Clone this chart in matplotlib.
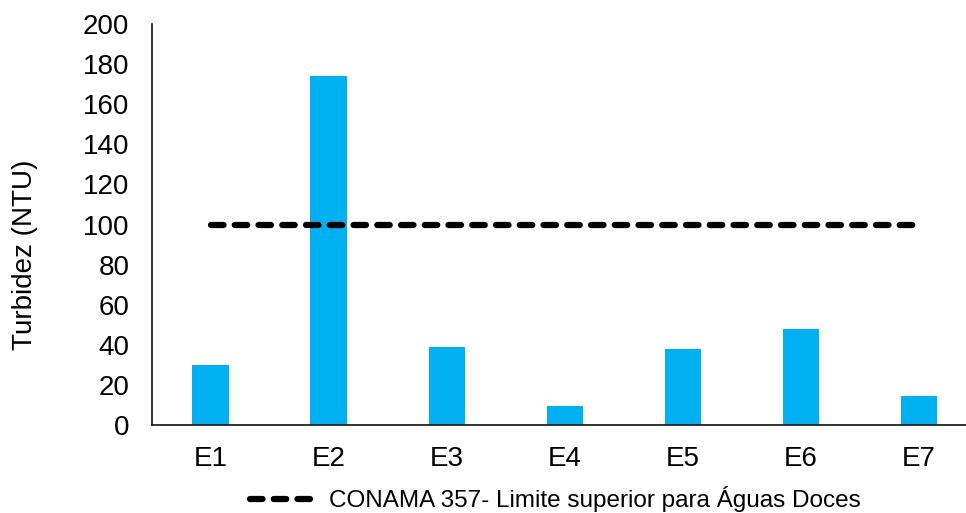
import matplotlib
matplotlib.use('Agg')
from matplotlib import pyplot as plt
import numpy as np

# stazioni e torbidità misurate
estacoes = ['E1', 'E2', 'E3', 'E4', 'E5', 'E6', 'E7']
turbidez = [30, 174, 38.7, 9.5, 37.8, 48, 14.5]
limite_conama = 100
rotulo_limite = 'CONAMA 357- Limite superior para Águas Doces'
rotulo_y = 'Turbidez (NTU)'
yticks = [0, 20, 40, 60, 80, 100, 120, 140, 160, 180, 200]

plt.rcParams['font.family'] = ['Liberation Sans', 'DejaVu Sans']

fig = plt.figure(figsize=(9.66, 5.13), dpi=100)
ax = fig.add_axes([0.157, 0.1715, 0.8555, 0.7817])

x = np.arange(len(estacoes))
ax.bar(x, turbidez, width=0.31, color='#00B0F0', zorder=2)

# limite superior: linha tracejada do primeiro ao último ponto
linha, = ax.plot([x[0], x[-1]], [limite_conama, limite_conama],
                 color='black', lw=4.5, linestyle=(0, (2.0, 1.8)),
                 dash_capstyle='round', zorder=3, label=rotulo_limite)

ax.set_xlim(-0.5, len(estacoes) - 0.5)
ax.set_ylim(0, 200)
ax.set_yticks(yticks)
ax.set_xticks(x)
ax.set_xticklabels(estacoes)
ax.tick_params(axis='both', length=0, labelsize=20)
ax.tick_params(axis='y', pad=16)
ax.tick_params(axis='x', pad=15)

for lado in ['top', 'right']:
    ax.spines[lado].set_visible(False)
for lado in ['left', 'bottom']:
    ax.spines[lado].set_linewidth(1.3)
    ax.spines[lado].set_color('#222222')

fig.text(0.026, 0.503, rotulo_y, rotation=90, ha='center', va='center',
         fontsize=20)

fig.legend(handles=[linha], loc='center', bbox_to_anchor=(0.575, 0.027),
           frameon=False, fontsize=17.5, handlelength=2.75, handletextpad=0.5)

fig.savefig('out.png', dpi=100)
